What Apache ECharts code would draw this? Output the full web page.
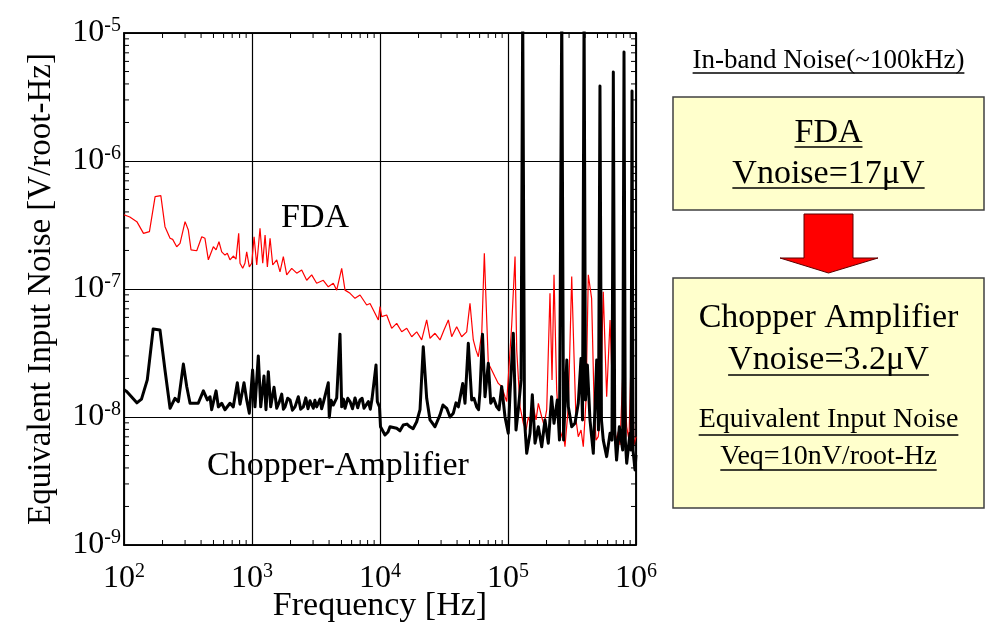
<!DOCTYPE html>
<html><head><meta charset="utf-8">
<script src="https://cdn.jsdelivr.net/npm/echarts@6/dist/echarts.min.js"></script>
<style>html,body{margin:0;padding:0;background:#fff}#c{width:990px;height:622px}</style>
</head><body><div id="c"></div>
<script>
// ---- data (frequency [Hz], noise [V/rtHz]) ----
const fdaData = [[100,3.8e-7],[111,3.65e-7],[126,3.36e-7],[142,2.72e-7],[158,2.81e-7],[175,5.26e-7],[194,5.36e-7],[209,3.07e-7],[229,2.49e-7],[240,2.44e-7],[258,2.14e-7],[274,2.27e-7],[300,3.36e-7],[318,2.89e-7],[334,2.02e-7],[370,1.99e-7],[405,2.56e-7],[429,2.49e-7],[456,1.69e-7],[499,2.14e-7],[524,2.02e-7],[552,2.34e-7],[580,1.95e-7],[615,1.84e-7],[641,1.90e-7],[673,1.69e-7],[714,1.81e-7],[750,1.71e-7],[787,2.72e-7],[806,1.59e-7],[846,1.45e-7],[881,1.59e-7],[909,1.95e-7],[953,1.49e-7],[995,1.59e-7],[1038,2.56e-7],[1089,1.54e-7],[1155,2.98e-7],[1213,1.59e-7],[1265,2.64e-7],[1318,1.49e-7],[1384,2.49e-7],[1452,1.54e-7],[1560,1.69e-7],[1655,1.36e-7],[1757,1.79e-7],[1867,1.29e-7],[2043,1.45e-7],[2235,1.33e-7],[2445,1.41e-7],[2675,1.17e-7],[2926,1.29e-7],[3200,1.11e-7],[3605,1.17e-7],[3944,1.04e-7],[4315,1.11e-7],[4590,9.8e-8],[5020,1.45e-7],[5330,9.8e-8],[5835,9.25e-8],[6380,8.45e-8],[6980,8.98e-8],[7870,7.5e-8],[8360,7.7e-8],[8870,6.86e-8],[9710,5.73e-8],[10000,7.28e-8],[10310,6.08e-8],[11280,6.26e-8],[12340,4.93e-8],[13500,5.39e-8],[14780,4.63e-8],[16170,4.93e-8],[17690,4.24e-8],[19350,4.63e-8],[21170,4.0e-8],[23160,5.73e-8],[24590,4.12e-8],[26900,4.51e-8],[29430,4.0e-8],[31620,4.79e-8],[34200,5.73e-8],[36310,4.24e-8],[39720,5.07e-8],[43450,4.24e-8],[47540,4.63e-8],[50470,7.73e-8],[53580,4.0e-8],[56230,3.33e-8],[58630,2.96e-8],[62370,4.51e-8],[65330,1.90e-7],[68210,5.73e-8],[70190,2.63e-8],[74580,2.33e-8],[79100,2.06e-8],[83970,1.83e-8],[89270,1.73e-8],[94750,1.44e-8],[97740,1.32e-8],[106900,5.24e-8],[113500,1.79e-7],[117000,3.33e-8],[124200,1.20e-8],[131800,8.93e-9],[138400,7.91e-9],[144200,1.0e-8],[151400,8.66e-9],[157800,1.20e-8],[165600,9.48e-9],[172600,1.28e-8],[183400,1.0e-8],[191100,8.66e-9],[200600,1.14e-8],[212800,9.25e-8],[220800,1.95e-8],[228800,1.29e-7],[240000,1.63e-8],[254700,6.6e-9],[269000,7.91e-9],[278700,5.86e-9],[296000,1.20e-8],[314600,1.25e-7],[328000,2.96e-8],[340000,9.48e-9],[354000,7.02e-9],[372000,7.91e-9],[387500,5.86e-9],[407000,1.36e-8],[424000,1.29e-7],[450000,8.45e-8],[470000,1.36e-8],[487000,6.6e-9],[507000,7.02e-9],[523000,9.48e-9],[555000,9.5e-8],[590000,1.44e-8],[627000,5.73e-8],[665000,1.0e-8],[698000,6.6e-9],[728000,7.67e-9],[750000,6.04e-9],[796000,2.79e-8],[846000,8.39e-9],[881000,6.6e-9],[925000,4.24e-8],[964000,6.04e-9],[1000000,7.02e-9]];

const chopperData = [[100,1.63e-8],[105,1.58e-8],[126,1.29e-8],[137,1.38e-8],[152,1.95e-8],[169,4.87e-8],[191,4.79e-8],[209,2.33e-8],[229,1.17e-8],[250,1.40e-8],[266,1.32e-8],[291,2.59e-8],[309,1.73e-8],[328,1.28e-8],[380,1.28e-8],[417,1.60e-8],[448,1.36e-8],[470,1.44e-8],[484,1.14e-8],[524,1.60e-8],[546,1.20e-8],[580,1.28e-8],[615,1.14e-8],[673,1.28e-8],[714,1.20e-8],[768,1.85e-8],[806,1.26e-8],[866,1.85e-8],[909,1.36e-8],[953,1.07e-8],[1011,2.33e-8],[1055,1.20e-8],[1120,3.0e-8],[1170,1.20e-8],[1241,2.09e-8],[1286,1.14e-8],[1341,2.26e-8],[1400,1.20e-8],[1486,1.71e-8],[1560,1.17e-8],[1630,1.30e-8],[1707,1.51e-8],[1760,1.15e-8],[1812,1.20e-8],[1900,1.40e-8],[1982,1.36e-8],[2070,1.13e-8],[2168,1.20e-8],[2301,1.44e-8],[2400,1.15e-8],[2518,1.20e-8],[2630,1.41e-8],[2740,1.16e-8],[2840,1.34e-8],[3013,1.17e-8],[3100,1.35e-8],[3200,1.20e-8],[3400,1.38e-8],[3500,1.16e-8],[3605,1.29e-8],[3944,1.85e-8],[4016,9.95e-9],[4150,1.35e-8],[4315,1.24e-8],[4590,1.41e-8],[4870,4.44e-8],[5020,1.20e-8],[5180,1.38e-8],[5330,1.17e-8],[5600,1.40e-8],[5835,1.32e-8],[6100,1.16e-8],[6380,1.41e-8],[6700,1.18e-8],[6980,1.36e-8],[7250,1.40e-8],[7500,1.17e-8],[8110,1.32e-8],[8400,1.15e-8],[8660,1.38e-8],[9310,2.55e-8],[9530,1.32e-8],[9910,1.20e-8],[10090,8.39e-9],[10940,7.23e-9],[11550,7.64e-9],[11970,8.39e-9],[13500,8.16e-9],[14320,7.8e-9],[15200,8.66e-9],[16250,8.8e-9],[17140,8.39e-9],[18130,8.1e-9],[19350,9.18e-9],[20540,1.14e-8],[21780,3.54e-8],[23160,1.40e-8],[24590,9.48e-9],[26900,8.39e-9],[29430,1.04e-8],[31050,1.24e-8],[33200,1.17e-8],[35240,1.0e-8],[37400,1.07e-8],[39240,1.29e-8],[40930,1.20e-8],[44290,1.83e-8],[46150,1.28e-8],[48960,3.77e-8],[52050,1.36e-8],[54200,1.40e-8],[56900,1.20e-8],[58900,1.14e-8],[60400,1.58e-8],[63200,4.44e-8],[66100,1.44e-8],[70190,2.63e-8],[73300,1.28e-8],[77100,1.40e-8],[81600,1.20e-8],[85100,1.14e-8],[89270,1.73e-8],[94750,1.0e-8],[100500,7.46e-9],[103700,1.53e-8],[110000,4.51e-8],[115500,7.91e-9],[120300,1.14e-8],[126500,1.95e-8],[130300,1.5e-5],[134600,9.48e-9],[140000,5.20e-9],[148600,7.46e-9],[154900,1.49e-8],[162600,6.24e-9],[172600,8.39e-9],[183400,5.86e-9],[194500,9.48e-9],[206500,6.24e-9],[219000,1.44e-8],[228800,8.93e-9],[242800,1.36e-8],[252400,6.6e-9],[263000,1.5e-5],[271700,6.6e-9],[288000,2.79e-8],[296000,1.20e-8],[314600,8.39e-9],[333700,8.93e-9],[354000,1.28e-8],[372000,2.87e-8],[382000,9.48e-9],[393000,1.5e-5],[403000,1.36e-8],[417000,2.55e-8],[437000,9.48e-9],[464000,5.20e-9],[493000,2.79e-8],[509000,7.91e-9],[523000,3.85e-6],[537000,9.48e-9],[555000,6.6e-9],[590000,4.90e-9],[627000,7.46e-9],[649000,6.6e-9],[665000,4.96e-6],[682000,7.91e-9],[705000,4.61e-9],[741000,8.39e-9],[787000,5.52e-9],[806000,7.11e-6],[825000,6.6e-9],[846000,4.35e-9],[897000,7.46e-9],[914000,5.52e-9],[931000,3.52e-6],[948000,5.52e-9],[982000,3.86e-9],[1000000,5.05e-9]];

const xRange = [1e2, 1e6];
const yRange = [1e-9, 1e-5];
const xAxisName = 'Frequency [Hz]';
const yAxisName = 'Equivalent Input Noise [V/root-Hz]';
const curveLabels = ['FDA', 'Chopper-Amplifier'];
const panelTitle = 'In-band Noise(~100kHz)';
const box1Lines = ['FDA', 'Vnoise=17\u03bcV'];
const box2Lines = ['Chopper Amplifier', 'Vnoise=3.2\u03bcV', 'Equivalent Input Noise', 'Veq=10nV/root-Hz'];

// minor tick positions (2..9 per decade)
const minorX = [], minorY = [];
for (let e = 2; e < 6; e++) for (let k = 2; k < 10; k++) minorX.push([k * Math.pow(10, e), yRange[0]]);
for (let e = -9; e < -5; e++) for (let k = 2; k < 10; k++) minorY.push([xRange[0], k * Math.pow(10, e)]);

const SERIF = '"Liberation Serif","Times New Roman",serif';
const chart = echarts.init(document.getElementById('c'), null, {renderer: 'canvas'});

const rich = {
  b: {fontFamily: SERIF, fontSize: 32, color: '#000', lineHeight: 34},
  s: {fontFamily: SERIF, fontSize: 20, color: '#000', lineHeight: 20, verticalAlign: 'top', padding: [0, 0, 30, 0]}
};
const fmt = v => '{b|10}{s|' + Math.round(Math.log10(v)) + '}';

const measureCtx = document.createElement('canvas').getContext('2d');
function textWidth(t, size) { measureCtx.font = size + 'px ' + SERIF; return measureCtx.measureText(t).width; }
function txt(t, x, y, size, underlineY) {
  const els = [{type: 'text', x: x, y: y, z: 10, style: {text: t, fontFamily: SERIF, fontSize: size, fill: '#000',
    align: 'center', verticalAlign: 'middle', textAlign: 'center', textVerticalAlign: 'middle'}}];
  if (underlineY != null) {
    const w = textWidth(t, size);
    els.push({type: 'line', z: 10, shape: {x1: x - w / 2, y1: underlineY, x2: x + w / 2, y2: underlineY}, style: {stroke: '#000', lineWidth: 1.5}});
  }
  return els;
}

const cx = 828.5;
const graphics = [].concat(
  txt(curveLabels[0], 315, 218, 34),
  txt(curveLabels[1], 338, 466, 34),
  txt(panelTitle, cx, 61, 27, 73),
  [{type: 'rect', z: 5, shape: {x: 673, y: 97, width: 311, height: 113}, style: {fill: '#FFFFCC', stroke: '#404040', lineWidth: 1.5}},
   {type: 'rect', z: 5, shape: {x: 673, y: 278, width: 311, height: 230}, style: {fill: '#FFFFCC', stroke: '#404040', lineWidth: 1.5}},
   {type: 'polygon', z: 5, shape: {points: [[804, 214], [853, 214], [853, 258], [878, 258], [828.5, 273], [780, 258], [804, 258]]}, style: {fill: '#FF0000', stroke: '#5a0000', lineWidth: 1}}],
  txt(box1Lines[0], cx, 133, 34, 147),
  txt(box1Lines[1], cx, 174, 34, 188),
  txt(box2Lines[0], cx, 318, 34),
  txt(box2Lines[1], cx, 360, 34, 375),
  txt(box2Lines[2], cx, 420, 28, 435),
  txt(box2Lines[3], cx, 457, 28, 470)
);

const axisCommon = {
  type: 'log', logBase: 10, splitNumber: 4,
  axisLine: {show: true, lineStyle: {color: '#000', width: 1.5}},
  axisTick: {show: true, inside: true, length: 8, lineStyle: {color: '#000', width: 1}},
};

const option = {
  animation: false,
  backgroundColor: '#fff',
  grid: {left: 124, top: 33, width: 512, height: 512, show: true, borderColor: '#000', borderWidth: 1.5,
    backgroundColor: 'transparent', containLabel: false, outerBoundsMode: 'none'},
  xAxis: [
    Object.assign({}, axisCommon, {min: xRange[0], max: xRange[1], position: 'bottom',
      name: xAxisName, nameLocation: 'middle', nameGap: 44, nameMoveOverlap: false,
      nameTextStyle: {fontFamily: SERIF, fontSize: 34, color: '#000'},
      axisLabel: {formatter: fmt, rich: rich, margin: 17},
      splitLine: {show: true, lineStyle: {color: '#000', width: 1.2}}}),
    Object.assign({}, axisCommon, {min: xRange[0], max: xRange[1], position: 'top',
      axisLabel: {show: false}, splitLine: {show: false}})
  ],
  yAxis: [
    Object.assign({}, axisCommon, {min: yRange[0], max: yRange[1], position: 'left',
      name: yAxisName, nameLocation: 'middle', nameGap: 66, nameMoveOverlap: false,
      nameTextStyle: {fontFamily: SERIF, fontSize: 33, color: '#000'},
      axisLabel: {formatter: fmt, rich: rich, margin: 3},
      splitLine: {show: true, lineStyle: {color: '#000', width: 1.2}}}),
    Object.assign({}, axisCommon, {min: yRange[0], max: yRange[1], position: 'right',
      axisLabel: {show: false}, splitLine: {show: false}})
  ],
  series: [
    {type: 'custom', silent: true, clip: false, z: 6, data: minorX,
      renderItem: (p, api) => {
        const f = api.value(0);
        const b = api.coord([f, yRange[0]]), t = api.coord([f, yRange[1]]);
        return {type: 'group', children: [
          {type: 'line', shape: {x1: b[0], y1: b[1], x2: b[0], y2: b[1] - 5}, style: {stroke: '#000', lineWidth: 1}},
          {type: 'line', shape: {x1: t[0], y1: t[1], x2: t[0], y2: t[1] + 5}, style: {stroke: '#000', lineWidth: 1}}]};
      }},
    {type: 'custom', silent: true, clip: false, z: 6, data: minorY,
      renderItem: (p, api) => {
        const v = api.value(1);
        const l = api.coord([xRange[0], v]), r = api.coord([xRange[1], v]);
        return {type: 'group', children: [
          {type: 'line', shape: {x1: l[0], y1: l[1], x2: l[0] + 5, y2: l[1]}, style: {stroke: '#000', lineWidth: 1}},
          {type: 'line', shape: {x1: r[0], y1: r[1], x2: r[0] - 5, y2: r[1]}, style: {stroke: '#000', lineWidth: 1}}]};
      }},
    {type: 'line', name: 'FDA', data: fdaData, showSymbol: false, clip: true, z: 3,
      lineStyle: {color: '#FF0000', width: 1.2}},
    {type: 'line', name: 'Chopper-Amplifier', data: chopperData, showSymbol: false, clip: true, z: 4,
      lineStyle: {color: '#000', width: 3, join: 'round'}}
  ],
  graphic: graphics
};
chart.setOption(option);
</script></body></html>
